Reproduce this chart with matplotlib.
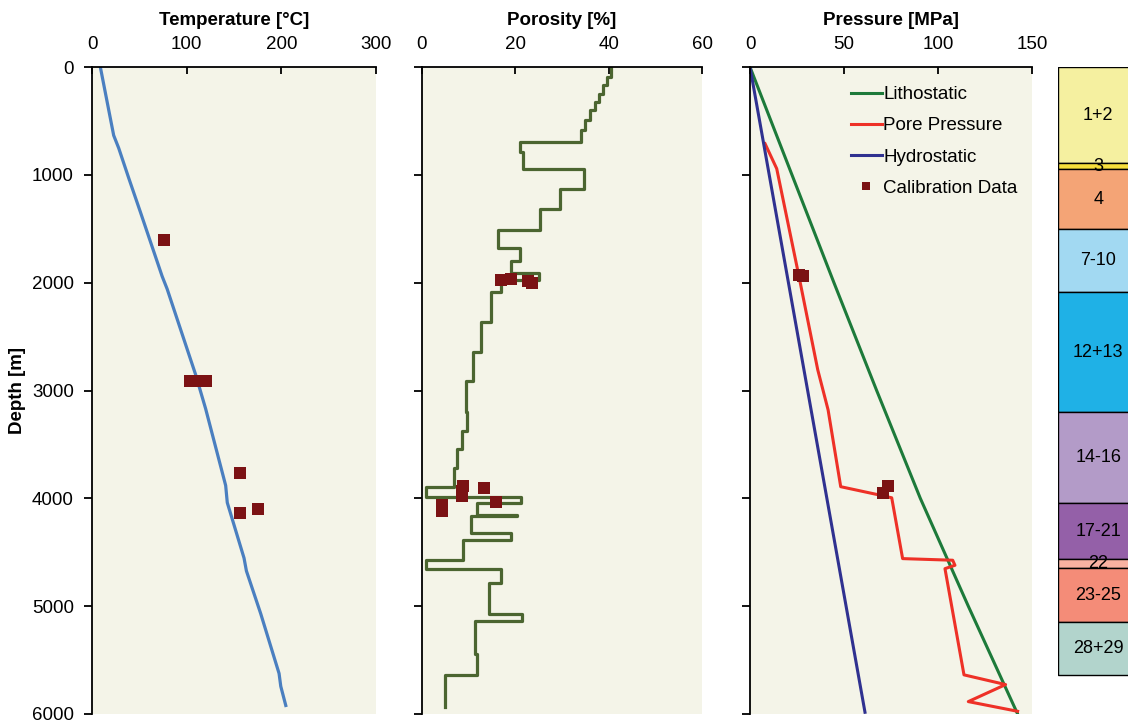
import matplotlib
matplotlib.use("Agg")
import matplotlib.pyplot as plt
import numpy as np

plt.rcParams["font.family"] = ["Liberation Sans", "DejaVu Sans"]

# --- temperature profile ---
temp_depth = [0, 634, 752, 1030, 1347, 1941, 2059, 2851, 3168, 3881, 4040,
              4554, 4673, 5069, 5624, 5743, 5921]
temp_val = [8.8, 22.9, 28.2, 38.8, 51.2, 74.1, 79.4, 109.4, 120.0, 141.2,
            142.9, 160.6, 163.1, 178.2, 197.6, 199.4, 204.7]
temp_cal_val = [76, 104, 114, 120, 156, 156.5, 175]
temp_cal_depth = [1604, 2911, 2911, 2911, 3762, 4139, 4099]

# --- porosity log: (top, bottom, porosity %) ---
poro_top = [0, 93, 170, 247, 325, 402, 495, 587, 696, 788, 943, 1128, 1320,
            1515, 1675, 1800, 1907, 1978, 2087, 2365, 2643, 2916, 3195, 3372,
            3545, 3722, 3892, 3992, 4047, 4156, 4162, 4326, 4382, 4568, 4658,
            4785, 5070, 5138, 5442, 5637]
poro_bot = poro_top[1:] + [5931]
poro_val = [40.5, 39.7, 38.8, 37.9, 37.1, 36.0, 34.9, 34.1, 21.0, 21.6, 34.6,
            29.6, 25.3, 16.4, 21.0, 19.1, 25.1, 17.0, 14.8, 12.7, 11.0, 9.5,
            9.6, 8.55, 7.6, 6.8, 0.9, 21.2, 11.9, 20.3, 10.5, 19.1, 8.9, 0.9,
            16.9, 14.4, 21.5, 11.4, 11.8, 5.0]
poro_cal_val = [17.0, 19.0, 22.8, 23.5, 8.9, 8.6, 8.6, 13.4, 15.8, 4.3, 4.3]
poro_cal_depth = [1975, 1965, 1985, 2000, 3886, 3935, 3975, 3908, 4032, 4065, 4120]

# --- pressure ---
litho_depth = [0, 1000, 2000, 3000, 4000, 5000, 6000]
litho_val = [0, 22.3, 44.6, 67.3, 90.5, 116.0, 142.2]
hydro_depth = [0, 5984]
hydro_val = [0, 61.1]
pore_depth = [711, 943, 1940, 2808, 3180, 3892, 3970, 3995, 4559, 4574, 4621,
              4652, 5637, 5727, 5885, 5975]
pore_val = [8.0, 14.2, 26.0, 36.0, 41.5, 48.2, 69.0, 75.3, 81.1, 107.7, 108.9,
            103.6, 113.7, 135.8, 116.0, 142.2]
pres_cal_val = [26.2, 28.3, 73.1, 70.8]
pres_cal_depth = [1932, 1941, 3886, 3954]

# --- stratigraphic column ---
strat_names = ["1+2", "3", "4", "7-10", "12+13", "14-16", "17-21", "22",
               "23-25", "28+29"]
strat_top = [0, 893, 949, 1503, 2090, 3197, 4047, 4567, 4650, 5145]
strat_bot = strat_top[1:] + [5640]
strat_colors = ["#f5f0a0", "#f7df3c", "#f4a476", "#a2d9f2", "#1fb1e6",
                "#b39bc8", "#9460a8", "#f8b2a2", "#f48c78", "#b2d4cc"]

BG = "#f4f4e8"
CAL = "#7b1214"
W, H = 1128, 720
top_px, bot_px = 67, 714


def panel(fig, left_px, right_px):
    ax = fig.add_axes([left_px / W, (H - bot_px) / H,
                       (right_px - left_px) / W, (bot_px - top_px) / H])
    ax.set_facecolor(BG)
    ax.set_ylim(6000, 0)
    ax.set_yticks(range(0, 6001, 1000))
    ax.xaxis.tick_top()
    for s in ("right", "bottom"):
        ax.spines[s].set_visible(False)
    for s in ("left", "top"):
        ax.spines[s].set_linewidth(1.3)
    ax.tick_params(axis="x", direction="in", length=5, width=1.3, pad=10,
                   labelsize=13.5)
    ax.tick_params(axis="y", direction="out", length=6, width=1.3, pad=7,
                   labelsize=13.5)
    return ax


def title(ax, text):
    ax.text(0.5, 1 + 47 / (bot_px - top_px), text, transform=ax.transAxes,
            ha="center", va="center", fontsize=13.5, fontweight="bold")


fig = plt.figure(figsize=(W / 100, H / 100), dpi=100)

# temperature
ax1 = panel(fig, 92, 376)
ax1.plot(temp_val, temp_depth, color="#4a7fc0", lw=2.3)
ax1.plot(temp_cal_val, temp_cal_depth, "s", color=CAL, ms=8, mew=0)
ax1.set_xlim(0, 300)
ax1.set_xticks([0, 100, 200, 300])
title(ax1, "Temperature [°C]")
ax1.set_ylabel("Depth [m]", fontsize=13.5, fontweight="bold")
ax1.yaxis.set_label_coords(-(92 - 26) / 284, 0.5)

# porosity: step log
ax2 = panel(fig, 421.7, 702.3)
px, py = [], []
for t, b, v in zip(poro_top, poro_bot, poro_val):
    px += [v, v]
    py += [t, b]
ax2.plot(px, py, color="#4b6530", lw=2.3)
ax2.plot(poro_cal_val, poro_cal_depth, "s", color=CAL, ms=8, mew=0)
ax2.set_xlim(0, 60)
ax2.set_xticks([0, 20, 40, 60])
ax2.set_yticklabels([])
title(ax2, "Porosity [%]")

# pressure
ax3 = panel(fig, 750, 1032.3)
ax3.plot(litho_val, litho_depth, color="#1d7a3a", lw=2.2, label="Lithostatic")
ax3.plot(pore_val, pore_depth, color="#ee3127", lw=2.2, label="Pore Pressure")
ax3.plot(hydro_val, hydro_depth, color="#2f3190", lw=2.2, label="Hydrostatic")
ax3.plot(pres_cal_val, pres_cal_depth, "s", color=CAL, ms=8, mew=0,
         label="Calibration Data")
ax3.set_xlim(0, 150)
ax3.set_xticks([0, 50, 100, 150])
ax3.set_yticklabels([])
title(ax3, "Pressure [MPa]")
ax3.legend(loc="upper left", bbox_to_anchor=(0.33, 0.982), frameon=False,
           fontsize=13.5, handlelength=1.65, handletextpad=0.1,
           labelspacing=0.75, markerscale=0.75, borderaxespad=0)

# stratigraphic column (runs past the right edge)
ax4 = fig.add_axes([1058.3 / W, (H - bot_px) / H, 80 / W, (bot_px - top_px) / H])
ax4.set_xlim(0, 1)
ax4.set_ylim(6000, 0)
ax4.axis("off")
for name, t, b, c in zip(strat_names, strat_top, strat_bot, strat_colors):
    ax4.bar(0.5, b - t, bottom=t, width=1, color=c, edgecolor="black", lw=1.0)
    ax4.text(0.5, (t + b) / 2, name, ha="center", va="center", fontsize=13)

fig.savefig("out.png", dpi=100)
